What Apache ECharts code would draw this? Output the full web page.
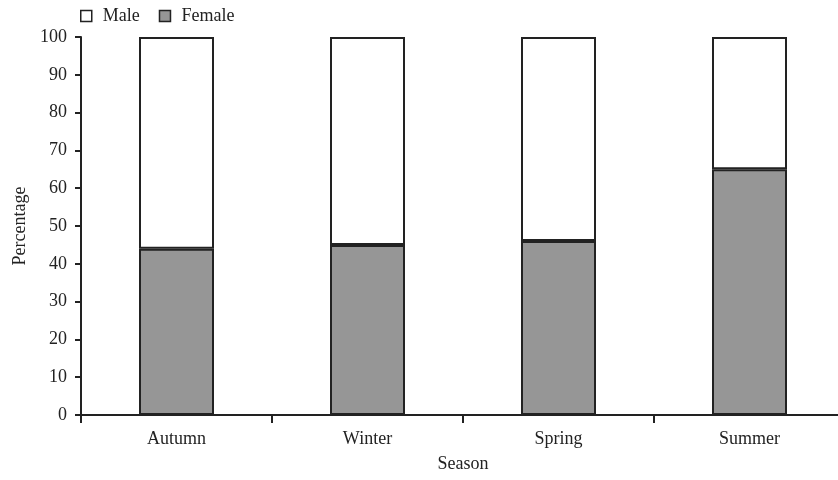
<!DOCTYPE html>
<html>
<head>
<meta charset="utf-8">
<script src="https://cdn.jsdelivr.net/npm/echarts@6/dist/echarts.min.js"></script>
<style>html,body{margin:0;padding:0;background:#fff;overflow:hidden;}#c{width:845px;height:480px;}</style>
</head>
<body>
<div id="c"></div>
<script>
var categories = ['Autumn', 'Winter', 'Spring', 'Summer'];
var femaleValues = [44, 45, 46, 65];
var maleValues = [56, 55, 54, 35];
var yTicks = [0, 10, 20, 30, 40, 50, 60, 70, 80, 90, 100];

var font = '"Liberation Serif", "DejaVu Serif", serif';
var chart = echarts.init(document.getElementById('c'), null, {renderer: 'canvas'});
chart.setOption({
  animation: false,
  backgroundColor: '#ffffff',
  textStyle: {fontFamily: font},
  legend: {
    left: 80, top: 7,
    padding: 0,
    icon: 'rect',
    itemWidth: 11, itemHeight: 11, itemGap: 19,
    itemStyle: {borderColor: '#222', borderWidth: 1.5},
    textStyle: {fontFamily: font, fontSize: 18, color: '#222', padding: [0, 0, 0, 6]},
    data: ['Male', 'Female']
  },
  grid: {left: 81, right: 0, top: 37, bottom: 65, containLabel: false},
  xAxis: {
    type: 'category',
    data: categories,
    name: 'Season',
    nameLocation: 'middle',
    nameGap: 40,
    nameTextStyle: {fontFamily: font, fontSize: 18, color: '#222'},
    axisLine: {lineStyle: {color: '#222', width: 2}},
    axisTick: {show: true, length: 8, lineStyle: {color: '#222', width: 2}, alignWithLabel: false},
    axisLabel: {fontFamily: font, fontSize: 18, color: '#222', margin: 15}
  },
  yAxis: {
    type: 'value',
    min: 0, max: 100, interval: 10,
    name: 'Percentage',
    nameLocation: 'middle',
    nameGap: 52,
    nameTextStyle: {fontFamily: font, fontSize: 18, color: '#222'},
    axisLine: {show: true, lineStyle: {color: '#222', width: 2}},
    axisTick: {show: true, length: 6, lineStyle: {color: '#222', width: 2}},
    axisLabel: {fontFamily: font, fontSize: 18, color: '#222', margin: 14,
      formatter: function (v) { return yTicks.indexOf(v) >= 0 ? String(v) : ''; }},
    splitLine: {show: false}
  },
  series: [
    {
      name: 'Female', type: 'bar', stack: 'total', data: femaleValues,
      barWidth: 75,
      itemStyle: {color: '#969696', borderColor: '#222', borderWidth: 2}
    },
    {
      name: 'Male', type: 'bar', stack: 'total', data: maleValues,
      barWidth: 75,
      itemStyle: {color: '#ffffff', borderColor: '#222', borderWidth: 2}
    }
  ]
});
</script>
</body>
</html>
